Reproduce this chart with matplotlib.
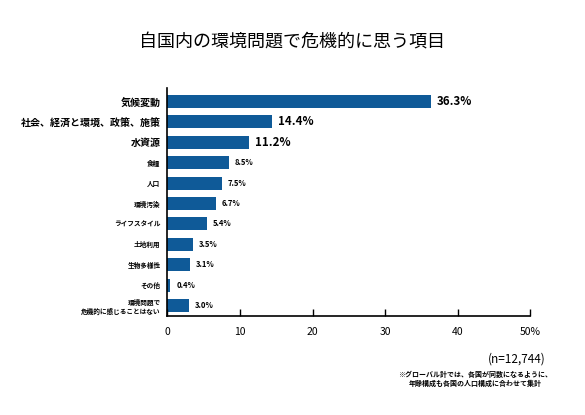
import numpy as np
import matplotlib
matplotlib.use("Agg")
import matplotlib.pyplot as plt

plt.rcParams['font.family'] = ['Noto Sans CJK JP', 'DejaVu Sans']

# data
categories = ["気候変動", "社会、経済と環境、政策、施策", "水資源", "食糧", "人口",
              "環境汚染", "ライフスタイル", "土地利用", "生物多様性", "その他",
              "環境問題で\n危機的に感じることはない"]
values = [36.3, 14.4, 11.2, 8.5, 7.5, 6.7, 5.4, 3.5, 3.1, 0.4, 3.0]
big = [True, True, True] + [False] * 8
xticks = [0, 10, 20, 30, 40, 50]
xticklabels = ["0", "10", "20", "30", "40", "50%"]

bar_color = "#0f5a98"

fig = plt.figure(figsize=(5.85, 4.15), dpi=100)
ax = fig.add_axes([0.2863, 0.239, 0.62, 0.549])

y = np.arange(len(categories))
ax.barh(y, values, height=0.64, color=bar_color)

for i, v in enumerate(values):
    if big[i]:
        ax.text(v + 0.8, i, f"{v:.1f}%", va="center", ha="left",
                fontsize=8.3, fontweight="bold")
    else:
        ax.text(v + 0.8, i, f"{v:.1f}%", va="center", ha="left",
                fontsize=5.5, fontweight="bold")

ax.set_xlim(0, 50)
ax.set_ylim(len(categories) - 0.5, -0.66)
ax.set_yticks(y)
ax.set_yticklabels(categories)
for lab, b in zip(ax.get_yticklabels(), big):
    lab.set_fontweight("bold")
    lab.set_fontsize(7.2 if b else 4.8)
    lab.set_multialignment("right")
ax.tick_params(axis="y", length=0, pad=5)

ax.set_xticks(xticks)
ax.set_xticklabels(xticklabels, fontsize=7.5)
ax.tick_params(axis="x", direction="in", length=5, width=1, pad=8)

for s in ["top", "right"]:
    ax.spines[s].set_visible(False)
ax.spines["left"].set_linewidth(1.2)
ax.spines["bottom"].set_linewidth(1.2)

fig.text(0.5, 0.9, "自国内の環境問題で危機的に思う項目", ha="center", va="center",
         fontsize=13)
fig.text(0.932, 0.134, "(n=12,744)", ha="right", va="center", fontsize=8.5)
fig.text(0.812, 0.087, "※グローバル計では、各国が同数になるように、\n年齢構成も各国の人口構成に合わせて集計",
         ha="center", va="center", fontsize=5, fontweight="bold", linespacing=1.35)

fig.savefig("out.png", dpi=100)
